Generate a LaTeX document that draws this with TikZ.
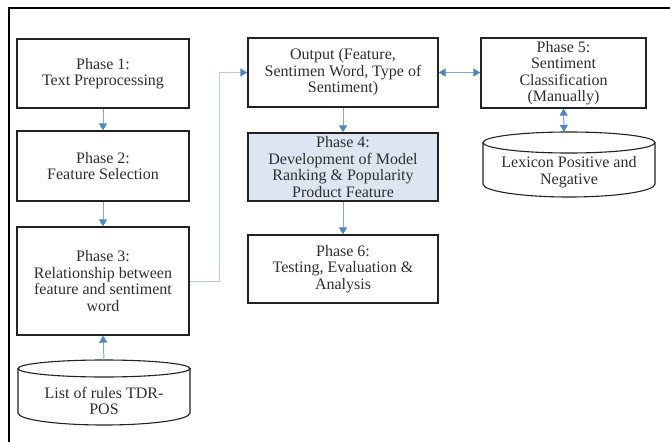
\documentclass[tikz,border=0pt]{standalone}
\usepackage{fontspec}
\setmainfont{Liberation Serif}
\usetikzlibrary{arrows.meta}
\definecolor{txt}{HTML}{2E2E2E}
\definecolor{boxline}{HTML}{222222}
\definecolor{arrline}{HTML}{7EA8D2}
\definecolor{arrhead}{HTML}{4F86C6}
\definecolor{lightline}{HTML}{B3CCE0}
\definecolor{p4fill}{HTML}{DCE6F2}
\tikzset{
  phasebox/.style={draw=boxline, line width=1.3pt, align=center, text=txt,
    font=\fontsize{16}{16.5}\selectfont, inner sep=2pt},
  cyltext/.style={align=center, text=txt, font=\fontsize{16}{16.5}\selectfont, inner sep=0pt},
  cylline/.style={draw=boxline, line width=1.1pt},
  flow/.style={draw=arrline, line width=1pt, -{Triangle[length=7pt,width=8pt,fill=arrhead,color=arrhead]}},
  flowboth/.style={draw=arrline, line width=1pt, {Triangle[length=7pt,width=8pt,fill=arrhead,color=arrhead]}-{Triangle[length=7pt,width=8pt,fill=arrhead,color=arrhead]}},
}
\begin{document}
\begin{tikzpicture}[x=1pt,y=-1pt]
\useasboundingbox (0,0) rectangle (670,442);
% frame
\draw[black, line width=1.5pt] (9,442) -- (9,8) -- (670,8);

% boxes
\node[phasebox, minimum width=172pt, minimum height=69pt] (p1) at (103,73.5) {Phase 1:\\Text Preprocessing};
\node[phasebox, minimum width=172pt, minimum height=70pt] (p2) at (103,166) {Phase 2:\\Feature Selection};
\node[phasebox, minimum width=172pt, minimum height=108pt] (p3) at (103,281) {Phase 3:\\Relationship between\\feature and sentiment\\word};
\node[phasebox, minimum width=190pt, minimum height=69pt] (out) at (343,72.5) {Output (Feature,\\Sentimen Word, Type of\\Sentiment)};
\node[phasebox, fill=p4fill, minimum width=190pt, minimum height=68pt] (p4) at (343,167) {Phase 4:\\Development of Model\\Ranking \& Popularity\\Product Feature};
\node[phasebox, minimum width=190pt, minimum height=68pt] (p6) at (343,269) {Phase 6:\\Testing, Evaluation \&\\Analysis};
\node[phasebox, minimum width=165pt, minimum height=70pt] (p5) at (563.5,73) {Phase 5:\\Sentiment\\Classification\\(Manually)};

% cylinder TDR
\draw[cylline] (18,368.5) -- (18,413) arc[start angle=180, end angle=0, x radius=86, y radius=12] -- (190,368.5);
\draw[cylline] (104,368.5) ellipse[x radius=86, y radius=8.5];
\node[cyltext, minimum width=172pt, minimum height=67pt] (tdr) at (104,393.5) {};
\node[cyltext] (tdrtext) at (104,401) {List of rules TDR-\\POS};

% cylinder Lexicon
\draw[cylline] (483,142.5) -- (483,184) arc[start angle=180, end angle=0, x radius=86, y radius=13] -- (655,142.5);
\draw[cylline] (569,142.5) ellipse[x radius=86, y radius=10.5];
\node[cyltext, minimum width=172pt, minimum height=66pt] (lex) at (564,165) {};
\node[cyltext] (lextext) at (569,172) {Lexicon Positive and\\Negative};

% connectors
\draw[flow] (p1.south) -- (p2.north);
\draw[flow] (p2.south) -- (p3.north);
\draw[flow] (tdr.north) -- (p3.south);
\draw[flow, draw=lightline] (p3.east) -- ++(30,0) |- (out.west);
\draw[flowboth] (out.east) -- (out.east -| p5.west);
\draw[flow] (out.south) -- (p4.north);
\draw[flow] (p4.south) -- (p6.north);
\draw[flowboth] (p5.south) -- (lex.north);
\end{tikzpicture}
\end{document}
